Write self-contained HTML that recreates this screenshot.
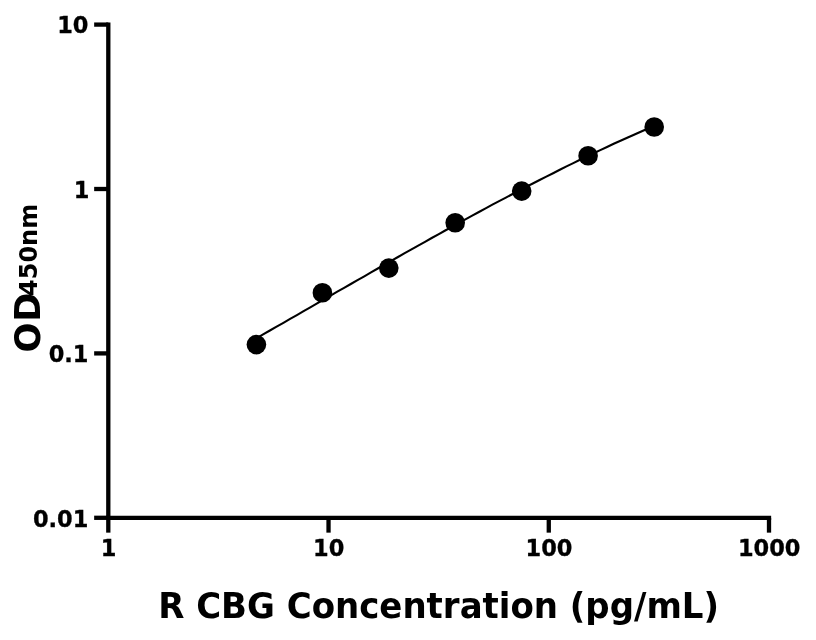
<!DOCTYPE html>
<html><head><meta charset="utf-8"><title>Standard curve</title>
<style>html,body{margin:0;padding:0;background:#fff}svg{display:block}</style></head>
<body>
<svg width="816" height="640" viewBox="0 0 816 640">
<rect width="816" height="640" fill="#fff"/>
<g stroke="#000" stroke-width="4.3" fill="none" stroke-linecap="butt">
<path d="M108.3,22.450000000000003V519.9499999999999"/>
<path d="M106.14999999999999,517.8H771.15"/>
<path d="M94.15,24.60H108.3"/>
<path d="M108.30,517.8V532.65"/>
<path d="M94.15,189.00H108.3"/>
<path d="M328.53,517.8V532.65"/>
<path d="M94.15,353.40H108.3"/>
<path d="M548.77,517.8V532.65"/>
<path d="M94.15,517.80H108.3"/>
<path d="M769.00,517.8V532.65"/>
</g>
<polyline points="256.4,338.3 263.1,334.4 269.9,330.5 276.6,326.7 283.4,322.8 290.1,318.9 296.9,315.1 303.6,311.2 310.3,307.3 317.1,303.4 323.8,299.5 330.6,295.6 337.3,291.7 344.1,287.9 350.8,284.0 357.5,280.1 364.3,276.3 371.0,272.4 377.8,268.5 384.5,264.7 391.2,260.8 398.0,257.0 404.7,253.2 411.5,249.4 418.2,245.6 425.0,241.8 431.7,238.0 438.4,234.3 445.2,230.5 451.9,226.8 458.7,223.1 465.4,219.4 472.2,215.7 478.9,212.0 485.6,208.4 492.4,204.7 499.1,201.1 505.9,197.6 512.6,194.0 519.4,190.5 526.1,186.9 532.8,183.5 539.6,180.0 546.3,176.6 553.1,173.2 559.8,169.8 566.5,166.4 573.3,163.1 580.0,159.8 586.8,156.5 593.5,153.3 600.3,150.1 607.0,147.0 613.7,143.8 620.5,140.7 627.2,137.7 634.0,134.7 640.7,131.7 647.5,128.7 654.2,125.8" fill="none" stroke="#000" stroke-width="2.1" stroke-linejoin="round"/>
<circle cx="256.4" cy="344.6" r="9.8" fill="#000"/>
<circle cx="322.4" cy="292.7" r="9.8" fill="#000"/>
<circle cx="388.8" cy="268.1" r="9.8" fill="#000"/>
<circle cx="455.2" cy="222.8" r="9.8" fill="#000"/>
<circle cx="521.7" cy="191.1" r="9.8" fill="#000"/>
<circle cx="588.1" cy="155.7" r="9.8" fill="#000"/>
<circle cx="654.2" cy="127.0" r="9.8" fill="#000"/>
<g font-family="'DejaVu Sans', 'Liberation Sans', sans-serif" font-weight="bold" fill="#000">
<g font-size="22.5" text-anchor="end" stroke="#000" stroke-width="0.3">
<text transform="translate(88.50,33.30) scale(1,1.05)">10</text>
<text transform="translate(89.30,197.50) scale(1,1.05)">1</text>
<text transform="translate(88.50,362.45) scale(1,1.05)">0.1</text>
<text transform="translate(88.40,526.50) scale(1,1.05)">0.01</text>
</g><g font-size="22.5" text-anchor="middle" stroke="#000" stroke-width="0.3">
<text transform="translate(108.50,556.1) scale(1,1.05)">1</text>
<text transform="translate(328.73,556.1) scale(1,1.05)">10</text>
<text transform="translate(548.97,556.1) scale(1,1.05)">100</text>
<text transform="translate(769.20,556.1) scale(1,1.05)">1000</text>
</g>
<text transform="translate(438.6,617.6) scale(1,1.04)" font-size="34" text-anchor="middle">R CBG Concentration (pg/mL)</text>
<text transform="translate(40.2,352.5) rotate(-90)" font-size="35.2" dx="0 0.8">OD</text>
<text transform="translate(36.9,296.0) rotate(-90)" font-size="24">450nm</text>
</g></svg>
</body></html>
